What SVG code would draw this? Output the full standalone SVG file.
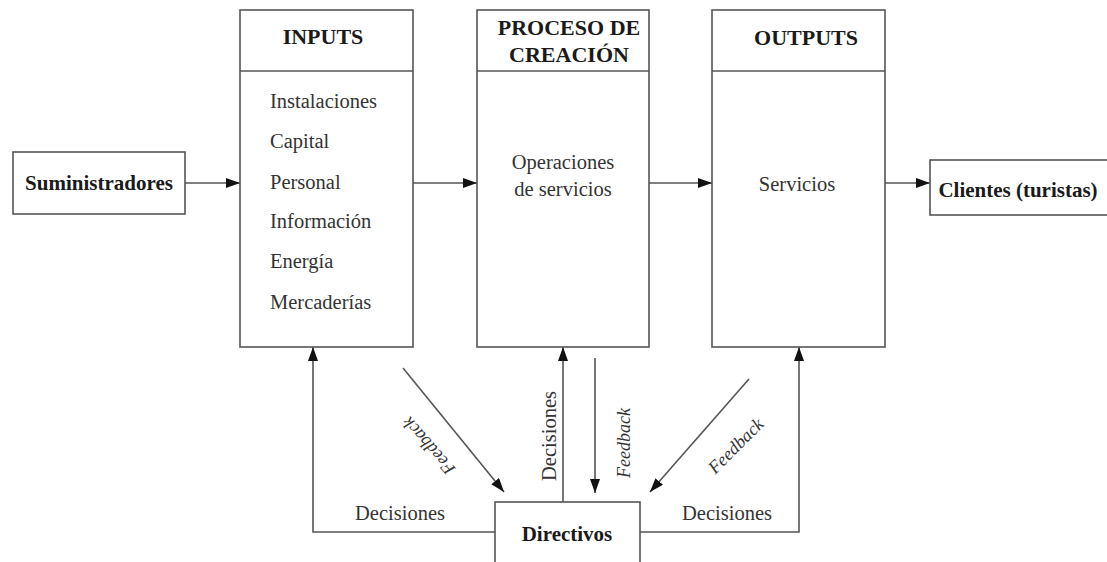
<svg xmlns="http://www.w3.org/2000/svg" width="1107" height="562" viewBox="0 0 1107 562">
  <style>
    .box { fill: #ffffff; stroke: #555555; stroke-width: 1.6; }
    .line { fill: none; stroke: #555555; stroke-width: 1.6; }
    .title { font-family: "Liberation Serif", serif; font-weight: bold; font-size: 21px; fill: #1a1a1a; text-anchor: middle; }
    .head { font-size: 22px; }
    .item { font-family: "Liberation Serif", serif; font-size: 20.5px; fill: #333333; }
    .mid { text-anchor: middle; }
    .fb { font-family: "Liberation Serif", serif; font-style: italic; font-size: 18px; fill: #333333; text-anchor: middle; }
  </style>
  <defs>
    <marker id="arrow" viewBox="0 0 14 10" refX="14" refY="5" markerWidth="14" markerHeight="10" markerUnits="userSpaceOnUse" orient="auto">
      <path d="M0,0 L14,5 L0,10 Z" fill="#111111"/>
    </marker>
  </defs>
  <rect width="1107" height="562" fill="#ffffff"/>

  <g id="connectors">
    <line class="line" x1="185" y1="183" x2="240" y2="183" marker-end="url(#arrow)"/>
    <line class="line" x1="413" y1="183" x2="477" y2="183" marker-end="url(#arrow)"/>
    <line class="line" x1="649" y1="183" x2="712" y2="183" marker-end="url(#arrow)"/>
    <line class="line" x1="885" y1="183" x2="930" y2="183" marker-end="url(#arrow)"/>
    <polyline class="line" points="495,532 313,532 313,347" marker-end="url(#arrow)"/>
    <line class="line" x1="563" y1="502" x2="563" y2="347" marker-end="url(#arrow)"/>
    <line class="line" x1="595" y1="358" x2="595" y2="493" marker-end="url(#arrow)"/>
    <line class="line" x1="403" y1="368" x2="504" y2="492" marker-end="url(#arrow)"/>
    <line class="line" x1="749" y1="379" x2="650" y2="492" marker-end="url(#arrow)"/>
    <polyline class="line" points="640,532 799,532 799,347" marker-end="url(#arrow)"/>
    <text class="item mid" x="400" y="520">Decisiones</text>
    <text class="item mid" x="727" y="520">Decisiones</text>
    <text class="item mid" transform="translate(556,436) rotate(-90)">Decisiones</text>
    <text class="fb" transform="translate(630,443) rotate(-90)">Feedback</text>
    <text class="fb" transform="translate(433,442) rotate(-131)">Feedback</text>
    <text class="fb" transform="translate(740,450) rotate(-45)">Feedback</text>
  </g>

  <g id="suministradores">
    <rect class="box" x="13" y="152" width="172" height="62"/>
    <text class="title" x="99" y="190">Suministradores</text>
  </g>

  <g id="inputs">
    <rect class="box" x="240" y="10" width="173" height="337"/>
    <line class="line" x1="240" y1="71" x2="413" y2="71"/>
    <text class="title head" x="323" y="44">INPUTS</text>
    <text class="item" x="270" y="108">Instalaciones</text>
    <text class="item" x="270" y="148">Capital</text>
    <text class="item" x="270" y="189">Personal</text>
    <text class="item" x="270" y="228">Información</text>
    <text class="item" x="270" y="268">Energía</text>
    <text class="item" x="270" y="309">Mercaderías</text>
  </g>

  <g id="proceso">
    <rect class="box" x="477" y="10" width="172" height="337"/>
    <line class="line" x1="477" y1="71" x2="649" y2="71"/>
    <text class="title head" x="569" y="35">PROCESO DE</text>
    <text class="title head" x="569" y="62">CREACIÓN</text>
    <text class="item mid" x="563" y="169">Operaciones</text>
    <text class="item mid" x="563" y="196">de servicios</text>
  </g>

  <g id="outputs">
    <rect class="box" x="712" y="10" width="173" height="337"/>
    <line class="line" x1="712" y1="71" x2="885" y2="71"/>
    <text class="title head" x="806" y="45">OUTPUTS</text>
    <text class="item mid" x="797" y="191">Servicios</text>
  </g>

  <g id="clientes">
    <rect class="box" x="930" y="160" width="185" height="55"/>
    <text class="title" x="1018" y="197">Clientes (turistas)</text>
  </g>

  <g id="directivos">
    <rect class="box" x="495" y="502" width="145" height="70"/>
    <text class="title" x="567" y="541">Directivos</text>
  </g>
</svg>
